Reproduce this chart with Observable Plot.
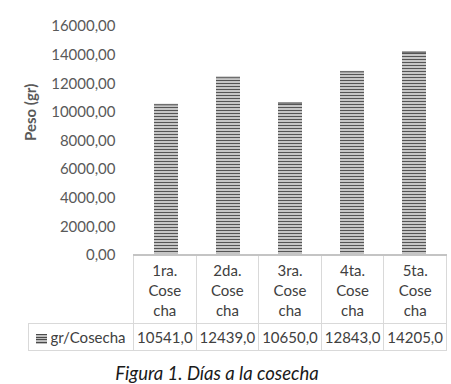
<!DOCTYPE html>
<html>
<head>
<meta charset="utf-8">
<script src="https://cdn.jsdelivr.net/npm/d3@7"></script>
<script src="https://cdn.jsdelivr.net/npm/@observablehq/plot@0.6"></script>
<style>
  html, body { margin: 0; padding: 0; background: #fff; }
  #wrap { position: relative; width: 451px; height: 384px; font-family: Lato, "Open Sans", sans-serif; }
  #wrap svg.plot { position: absolute; left: 0; top: 0; }
  table.dt { position: absolute; left: 28px; top: 254px; border-collapse: collapse; table-layout: fixed;
    font-family: Lato, sans-serif; font-size: 15px; color: #404040; background: transparent; }
  table.dt td { border: 1px solid #d9d9d9; text-align: center; padding: 0; }
  table.dt tr.h td { height: 67px; line-height: 20px; vertical-align: middle; }
  table.dt tr.h td.blank { border: none; border-right: 1px solid #d9d9d9; }
  table.dt tr.h td:not(.blank) { border-top: 2px solid #c4c4c4; }
  table.dt tr.d td { height: 26px; white-space: nowrap; }
  .sw { display: inline-block; width: 11px; height: 10px; margin-right: 3px; vertical-align: -1px;
    background: repeating-linear-gradient(to bottom, #4a4a4a 0px, #4a4a4a 1px, #bdbdbd 1px, #bdbdbd 2.5px); }
  #cap { position: absolute; top: 362px; left: 0; width: 434px; text-align: center;
    font-family: Lato, sans-serif; font-style: italic; font-size: 18.5px; color: #1a1a1a; }
</style>
</head>
<body>
<div id="wrap"></div>
<script>
const categories = ["1ra. Cosecha", "2da. Cosecha", "3ra. Cosecha", "4ta. Cosecha", "5ta. Cosecha"];
const headerLines = [["1ra.", "Cose", "cha"], ["2da.", "Cose", "cha"], ["3ra.", "Cose", "cha"], ["4ta.", "Cose", "cha"], ["5ta.", "Cose", "cha"]];
const values = [10541, 12439, 10650, 12843, 14205];
const seriesName = "gr/Cosecha";
const yTicks = [0, 2000, 4000, 6000, 8000, 10000, 12000, 14000, 16000];
const yLabel = "Peso (gr)";
const caption = "Figura 1. Días a la cosecha";

const data = categories.map((c, i) => ({cat: c, v: values[i]}));
const fmtTick = d => d3.format(".2f")(d).replace(".", ",");
const fmtVal = d => d3.format(".1f")(d).replace(".", ",");

const chart = Plot.plot({
  width: 451,
  height: 266,
  marginLeft: 133,
  marginRight: 5,
  marginTop: 26,
  marginBottom: 11,
  style: {fontFamily: "Lato, sans-serif", fontSize: "15px", color: "#595959", background: "transparent", overflow: "visible"},
  x: {domain: categories, paddingInner: 0.62, paddingOuter: 0.31, axis: null},
  y: {domain: [0, 16000], axis: null},
  marks: [
    Plot.axisY({ticks: yTicks, tickSize: 0, tickPadding: 18, tickFormat: fmtTick, label: null, fill: "#595959"}),
    Plot.barY(data, {x: "cat", y: "v", fill: "url(#stripes)"}),
    Plot.tickY(data, {x: "cat", y: "v", stroke: "#6e6e6e", strokeWidth: 1.5}),
    Plot.text([yLabel], {frameAnchor: "left", dx: -102, rotate: -90, fontWeight: "bold", fontSize: 15, fill: "#595959", text: d => d})
  ]
});
chart.classList.add("plot");
const defs = d3.select(chart).insert("defs", ":first-child");
const pat = defs.append("pattern").attr("id", "stripes").attr("patternUnits", "userSpaceOnUse")
  .attr("width", 4).attr("height", 3);
pat.append("rect").attr("width", 4).attr("height", 3).attr("fill", "#c6c6c6");
pat.append("rect").attr("y", 2).attr("width", 4).attr("height", 1).attr("fill", "#555555");

const wrap = document.getElementById("wrap");
wrap.appendChild(chart);

// data table under the chart
const colW = (451 - 5 - 133) / categories.length;
const table = document.createElement("table");
table.className = "dt";
const cg = document.createElement("colgroup");
const c0 = document.createElement("col"); c0.style.width = "105px"; cg.appendChild(c0);
categories.forEach(() => { const c = document.createElement("col"); c.style.width = colW + "px"; cg.appendChild(c); });
table.appendChild(cg);
const trh = document.createElement("tr"); trh.className = "h";
const blank = document.createElement("td"); blank.className = "blank"; trh.appendChild(blank);
headerLines.forEach(lines => { const td = document.createElement("td"); td.innerHTML = lines.join("<br>"); trh.appendChild(td); });
table.appendChild(trh);
const trd = document.createElement("tr"); trd.className = "d";
const lg = document.createElement("td");
lg.innerHTML = '<span class="sw"></span>' + seriesName;
trd.appendChild(lg);
values.forEach(v => { const td = document.createElement("td"); td.textContent = fmtVal(v); trd.appendChild(td); });
table.appendChild(trd);
wrap.appendChild(table);

const cap = document.createElement("div");
cap.id = "cap"; cap.textContent = caption;
wrap.appendChild(cap);
</script>
</body>
</html>
